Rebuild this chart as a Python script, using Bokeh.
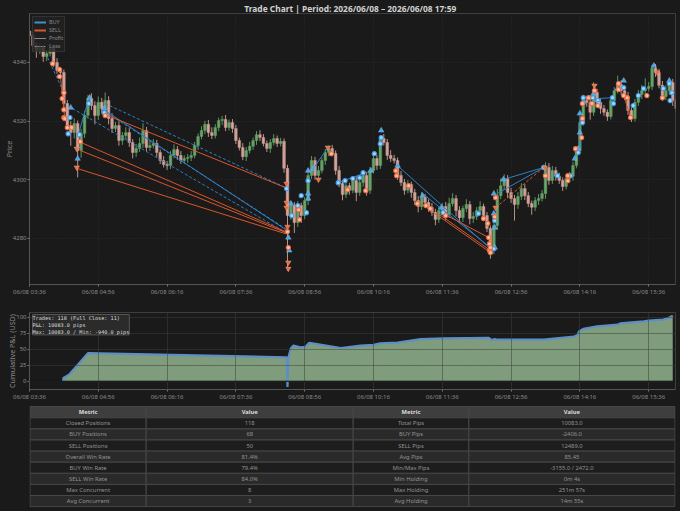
from bokeh.plotting import figure
from bokeh.layouts import column
from bokeh.models import Range1d, FixedTicker, Label, Span, Legend, LegendItem
from bokeh.core.properties import value
from bokeh.embed import file_html
from bokeh.resources import INLINE

BG = "#1a1a1a"
FONT = "Noto Sans"

title_text = "Trade Chart  |  Period: 2026/06/08 \u2013 2026/06/08 17:59"
tick_minutes = [0, 80, 160, 240, 320, 400, 480, 560, 640, 720]
tick_labels = ["06/08 03:36", "06/08 04:56", "06/08 06:16", "06/08 07:36", "06/08 08:56",
               "06/08 10:16", "06/08 11:36", "06/08 12:56", "06/08 14:16", "06/08 15:36"]

# Closing prices of 4-minute candles from 03:36
closes = [
    4349.2, 4345.8, 4344.1, 4345.1, 4342.0, 4343.1, 4344.8, 4340.0, 4337.3, 4336.6,
    4326.0, 4318.5, 4316.1, 4319.2, 4310.0, 4315.8, 4322.0, 4327.7, 4325.3, 4321.9,
    4326.4, 4324.3, 4327.0, 4320.9, 4317.5, 4318.5, 4313.4, 4315.1, 4316.1, 4312.7,
    4309.3, 4310.7, 4312.4, 4316.8, 4311.0, 4311.7, 4312.4, 4309.3, 4306.6, 4305.2,
    4304.9, 4308.3, 4310.3, 4308.3, 4306.6, 4307.3, 4307.6, 4308.3, 4311.7, 4314.8,
    4316.8, 4318.9, 4316.1, 4315.1, 4317.8, 4320.2, 4320.6, 4317.8, 4319.5, 4317.5,
    4313.4, 4311.0, 4307.9, 4310.0, 4311.4, 4313.4, 4315.4, 4314.4, 4312.4, 4310.7,
    4312.7, 4314.1, 4312.4, 4313.1, 4303.9, 4287.8, 4291.2, 4285.4, 4291.2, 4287.8,
    4292.9, 4301.5, 4306.6, 4301.5, 4303.2, 4306.6, 4309.3, 4310.7, 4309.0, 4303.2,
    4298.7, 4295.0, 4298.0, 4296.4, 4299.8, 4295.7, 4299.1, 4301.5, 4296.4, 4303.2,
    4307.3, 4304.9, 4314.1, 4312.7, 4308.3, 4307.3, 4306.6, 4301.5, 4299.1, 4296.4,
    4298.4, 4295.7, 4292.9, 4290.9, 4294.0, 4292.3, 4290.6, 4288.9, 4286.5, 4289.5,
    4290.9, 4288.2, 4291.9, 4293.6, 4289.5, 4287.1, 4290.2, 4291.6, 4286.8, 4287.5,
    4289.5, 4290.9, 4287.8, 4283.4, 4276.6, 4284.4, 4294.6, 4298.0, 4300.4, 4295.7,
    4293.6, 4291.6, 4294.3, 4297.0, 4294.6, 4291.9, 4290.6, 4292.9, 4293.6, 4295.3,
    4304.2, 4299.8, 4303.2, 4301.2, 4299.8, 4297.7, 4300.4, 4301.2, 4304.9, 4310.0,
    4319.5, 4327.0, 4326.4, 4323.0, 4329.8, 4326.4, 4324.3, 4323.0, 4321.6, 4327.0,
    4330.4, 4332.5, 4330.4, 4328.4, 4323.6, 4320.9, 4326.4, 4329.1, 4330.4, 4331.1,
    4331.8, 4338.0, 4336.6, 4332.2, 4328.4, 4330.4, 4333.2, 4327.0, 4324.3,
]
upper_wick = [
    0.8, 1.2, 1.0, 1.5, 1.0, 1.2, 1.6, 1.0, 1.5, 1.2,
    1.0, 1.2, 1.5, 1.8, 1.0, 1.5, 1.5, 1.2, 1.8, 1.5,
    2.0, 1.5, 2.8, 1.5, 1.8, 1.2, 1.5, 1.2, 1.8, 1.5,
    1.2, 1.5, 2.0, 2.5, 1.2, 1.8, 1.5, 1.2, 1.0, 1.5,
    1.2, 1.5, 1.8, 1.2, 1.5, 1.0, 1.2, 1.5, 1.2, 1.0,
    1.5, 1.2, 1.5, 1.8, 1.2, 1.0, 1.2, 1.5, 1.0, 1.2,
    1.2, 1.0, 1.5, 1.2, 1.5, 1.0, 1.2, 1.5, 1.2, 1.0,
    1.2, 1.5, 1.0, 1.2, 1.0, 1.2, 1.5, 1.2, 1.5, 1.0,
    1.2, 1.5, 1.5, 1.2, 1.5, 1.0, 1.2, 1.0, 1.2, 1.0,
    1.5, 1.2, 1.5, 1.0, 1.2, 1.5, 1.2, 1.5, 1.0, 1.2,
    1.5, 1.2, 1.2, 1.5, 1.2, 1.8, 1.2, 1.0, 1.5, 1.2,
    1.5, 1.0, 1.2, 1.5, 1.8, 1.2, 1.0, 1.5, 1.2, 1.5,
    1.2, 1.5, 2.0, 1.8, 1.2, 1.5, 1.0, 1.8, 1.2, 1.5,
    1.2, 1.8, 1.0, 1.2, 1.0, 1.5, 2.2, 2.5, 1.5, 1.2,
    1.5, 1.2, 1.5, 1.8, 1.5, 1.2, 1.0, 1.2, 1.5, 1.2,
    1.8, 1.5, 1.5, 1.2, 1.2, 1.0, 1.2, 1.5, 1.2, 1.0,
    1.2, 2.0, 1.5, 2.5, 3.5, 1.2, 1.5, 1.2, 1.0, 1.5,
    1.2, 3.0, 1.5, 1.2, 1.5, 1.0, 1.2, 1.5, 2.0, 3.5,
    1.5, 1.2, 1.5, 1.2, 1.5, 1.8, 1.5, 1.2, 1.0,
]
lower_wick = [
    1.2, 1.5, 2.5, 1.2, 1.8, 1.5, 1.0, 1.5, 1.2, 2.2,
    1.5, 1.2, 4.5, 2.0, 9.2, 2.5, 1.5, 1.2, 1.5, 3.0,
    1.5, 1.8, 1.2, 2.0, 1.5, 1.2, 1.8, 1.5, 1.2, 1.5,
    2.0, 1.5, 1.2, 1.5, 1.5, 1.2, 1.0, 1.5, 1.2, 1.0,
    1.5, 1.2, 1.0, 1.5, 1.2, 1.0, 1.5, 1.2, 1.0, 1.5,
    1.0, 1.2, 1.5, 1.2, 1.0, 1.2, 1.5, 1.2, 1.0, 1.5,
    1.2, 1.0, 1.2, 1.5, 1.0, 1.2, 1.5, 1.2, 1.0, 1.2,
    1.5, 1.0, 1.2, 1.0, 1.5, 18.8, 1.5, 3.5, 1.5, 2.5,
    1.2, 1.5, 1.2, 1.5, 1.2, 1.0, 1.5, 1.2, 1.0, 1.5,
    1.2, 2.0, 1.2, 1.5, 1.0, 3.0, 1.2, 1.5, 1.8, 1.2,
    1.0, 1.5, 1.2, 1.0, 1.5, 1.2, 1.0, 1.5, 1.2, 1.5,
    1.0, 1.8, 1.5, 2.0, 1.2, 1.5, 1.5, 1.2, 2.0, 1.2,
    1.5, 2.0, 1.2, 1.0, 2.0, 1.8, 1.5, 1.2, 2.0, 1.5,
    1.2, 1.0, 1.5, 1.2, 3.5, 2.0, 1.5, 1.2, 1.5, 2.0,
    1.5, 5.5, 1.5, 1.2, 1.5, 1.2, 2.5, 1.2, 1.5, 1.0,
    1.8, 1.5, 1.2, 1.5, 1.2, 1.5, 1.0, 1.2, 1.5, 1.0,
    1.2, 1.0, 1.5, 2.5, 1.2, 1.5, 1.8, 1.2, 1.5, 1.0,
    1.2, 1.0, 1.5, 1.2, 1.5, 1.2, 1.0, 1.2, 1.5, 1.2,
    1.0, 1.2, 1.5, 1.0, 1.5, 1.2, 1.5, 1.8, 1.2,
]

# Trades drawn as lines: minutes since 03:36 and prices at both ends
buy_profit_from_t = [57, 88, 330, 359, 428, 457, 551, 544, 662, 640]
buy_profit_from_p = [4315.7, 4323.6, 4303.8, 4299.0, 4304.8, 4295.3, 4300.1, 4295.3, 4327.7, 4322.6]
buy_profit_to_t = [69, 298, 347, 397, 536, 536, 598, 598, 678, 640]
buy_profit_to_p = [4327.7, 4283.0, 4311.0, 4303.1, 4276.5, 4276.9, 4304.2, 4304.2, 4328.0, 4310.0]
buy_loss_from_t = [88, 50, 91, 21]
buy_loss_from_p = [4326.0, 4324.3, 4322.6, 4341.7]
buy_loss_to_t = [298, 298, 298, 38]
buy_loss_to_p = [4297.3, 4282.0, 4283.3, 4331.0]
sell_profit_from_t = [91, 60, 59, 56, 455, 475, 481, 691, 36]
sell_profit_from_p = [4321.9, 4312.7, 4310.0, 4303.8, 4291.9, 4288.5, 4288.5, 4328.7, 4335.2]
sell_profit_to_t = [298, 298, 298, 298, 536, 536, 534, 699, 41]
sell_profit_to_p = [4297.3, 4282.3, 4282.0, 4281.6, 4275.2, 4275.9, 4280.3, 4321.2, 4320.9]
sell_loss_from_t = [542]
sell_loss_from_p = [4290.5]
sell_loss_to_t = [598]
sell_loss_to_p = [4304.2]

# Trade markers
buy_entry_t = [48, 70, 87, 56, 302, 324, 324, 324, 409, 428, 457, 479, 540, 540, 541, 541, 551,
               638, 640, 640, 656, 691, 726, 744, 684, 634, 301, 304, 330, 397]
buy_entry_p = [4324.6, 4328.0, 4324.3, 4307.2, 4275.9, 4303.1, 4295.3, 4293.6, 4316.8, 4304.8,
               4294.6, 4290.5, 4295.3, 4288.5, 4283.7, 4276.9, 4300.1, 4310.6, 4322.6, 4316.1,
               4329.4, 4333.8, 4338.9, 4333.8, 4331.1, 4307.2, 4280.3, 4291.9, 4303.8, 4303.1]
buy_exit_t = [47, 45, 58, 69, 87, 299, 324, 305, 312, 316, 322, 359, 367, 376, 384, 388, 401, 409,
              408, 481, 522, 541, 540, 598, 614, 629, 638, 643, 644, 644, 655, 661, 662, 678, 679,
              691, 702, 708, 714, 737, 744, 747, 745]
buy_exit_p = [4321.2, 4315.7, 4315.4, 4326.0, 4322.9, 4297.0, 4299.7, 4287.8, 4291.2, 4294.6,
              4288.8, 4299.0, 4299.7, 4300.4, 4300.7, 4302.4, 4308.9, 4314.4, 4312.3, 4288.8,
              4288.5, 4286.1, 4276.5, 4304.2, 4301.4, 4301.4, 4309.3, 4319.5, 4328.0, 4326.3,
              4328.0, 4327.0, 4326.0, 4328.0, 4326.0, 4331.4, 4325.3, 4328.7, 4331.1, 4331.1,
              4332.8, 4329.7, 4327.0]
sell_entry_t = [55, 55, 299, 299, 299, 300, 301, 301, 336, 347, 657, 730, 599, 542]
sell_entry_p = [4310.6, 4304.2, 4298.7, 4292.2, 4290.5, 4284.0, 4271.8, 4269.7, 4300.1, 4311.0,
                4332.1, 4336.6, 4304.2, 4290.5]
sell_exit_t = [27, 35, 35, 40, 38, 40, 40, 41, 44, 49, 59, 88, 300, 301, 313, 314, 351, 370, 391,
               426, 427, 441, 451, 461, 466, 484, 528, 533, 534, 535, 535, 536, 536, 542, 541,
               600, 626, 626, 635, 643, 642, 643, 650, 654, 661, 657, 685, 685, 691, 695, 699,
               718, 736]
sell_exit_p = [4339.6, 4337.6, 4335.2, 4329.7, 4327.7, 4323.9, 4321.2, 4320.9, 4317.8, 4317.8,
               4313.0, 4321.9, 4282.3, 4276.9, 4289.8, 4286.4, 4308.9, 4296.6, 4296.3, 4303.1,
               4301.4, 4298.0, 4291.9, 4291.2, 4290.2, 4287.8, 4286.8, 4285.1, 4280.3, 4278.2,
               4275.9, 4276.9, 4275.2, 4293.9, 4287.4, 4301.4, 4301.4, 4299.7, 4310.6, 4320.9,
               4314.4, 4326.0, 4328.0, 4326.0, 4325.3, 4330.4, 4332.8, 4330.8, 4328.7, 4328.0,
               4321.2, 4328.7, 4328.0]

# Cumulative P&L curve
pnl_t = [39, 39.5, 46, 68, 299, 300, 301, 304, 307, 315, 321, 325, 331, 362, 385, 400, 408, 428,
         455, 482, 534, 537, 541, 544, 598, 633, 637, 639, 644, 660, 684, 687, 714, 720, 737, 743, 748]
pnl_v = [0, 5, 10, 44, 37.5, -9, 37, 51.5, 55.7, 53, 54, 60, 59, 52, 55.7, 56.8, 59.4, 60.4,
         66, 67, 68, 64.6, 66, 65, 65, 70, 72, 78, 82, 86, 88.5, 90.6, 93.8, 94.8, 96.4, 99, 102.6]
stats_text = "Trades: 118 (Full Close: 11)\nP&L: 10083.0 pips\nMax: 10083.0 / Min: -940.0 pips"

# Summary table
table_header = ["Metric", "Value", "Metric", "Value"]
table_metric_a = ["Closed Positions", "BUY Positions", "SELL Positions", "Overall Win Rate",
                  "BUY Win Rate", "SELL Win Rate", "Max Concurrent", "Avg Concurrent"]
table_value_a = ["118", "68", "50", "81.4%", "79.4%", "84.0%", "8", "3"]
table_metric_b = ["Total Pips", "BUY Pips", "SELL Pips", "Avg Pips", "Min/Max Pips",
                  "Min Holding", "Max Holding", "Avg Holding"]
table_value_b = ["10083.0", "-2406.0", "12489.0", "85.45", "-3155.0 / 2472.0",
                 "0m 4s", "251m 57s", "14m 55s"]

X_MAX = 751.2


def style(p, y_ticks, y_label):
    p.background_fill_color = BG
    p.border_fill_color = BG
    p.outline_line_color = "#3e3e3e"
    p.xaxis.ticker = FixedTicker(ticks=tick_minutes)
    p.xaxis.major_label_overrides = dict(zip(tick_minutes, tick_labels))
    p.yaxis.ticker = FixedTicker(ticks=y_ticks)
    p.yaxis.axis_label = y_label
    p.yaxis.axis_label_text_font = FONT
    p.yaxis.axis_label_text_font_size = "7.2px"
    p.yaxis.axis_label_text_font_style = "normal"
    p.yaxis.axis_label_text_color = "#8a8a8a"
    p.yaxis.axis_label_standoff = -4
    for ax in (p.xaxis, p.yaxis):
        ax.axis_line_color = "#555555"
        ax.major_tick_line_color = "#777777"
        ax.major_tick_in = 0
        ax.major_tick_out = 2
        ax.minor_tick_line_color = None
        ax.major_label_text_color = "#8a8a8a"
        ax.major_label_text_font = FONT
        ax.major_label_text_font_size = "6px"
        ax.major_label_standoff = 1


# ---------- price chart ----------
main = figure(width=680, height=299, output_backend="svg", toolbar_location=None,
              x_range=Range1d(0, X_MAX), y_range=Range1d(4264.3, 4356.7),
              min_border_left=29, min_border_right=5, min_border_top=13, min_border_bottom=15,
              title=title_text)
main.title.align = "center"
main.title.standoff = 0
main.title.text_font = FONT
main.title.text_font_size = "8.4px"
main.title.text_font_style = "bold"
main.title.text_color = "#d2d2d2"
style(main, [4280, 4300, 4320, 4340], "Price")
main.grid.grid_line_color = "#2b2b2b"
main.grid.grid_line_dash = "1 2"

times = [i * 4 for i in range(len(closes))]
opens = [closes[0] + 1.5] + closes[:-1]
highs = [max(o, c) + w for o, c, w in zip(opens, closes, upper_wick)]
lows = [min(o, c) - w for o, c, w in zip(opens, closes, lower_wick)]
colors = ["#69a96b" if c >= o else "#d9a79e" for o, c in zip(opens, closes)]
main.segment(times, highs, times, lows, line_color=colors, line_width=1, line_alpha=0.85)
main.vbar(times, 3.2, opens, closes, fill_color=colors, line_color=colors, line_width=0.4, alpha=0.9)

BLUE, ORANGE = "#2f80c4", "#d9562c"
main.segment(buy_profit_from_t, buy_profit_from_p, buy_profit_to_t, buy_profit_to_p,
             line_color=BLUE, line_width=1)
main.segment(buy_loss_from_t, buy_loss_from_p, buy_loss_to_t, buy_loss_to_p,
             line_color=BLUE, line_width=1, line_dash="3 2")
main.segment(sell_profit_from_t, sell_profit_from_p, sell_profit_to_t, sell_profit_to_p,
             line_color=ORANGE, line_width=1)
main.segment(sell_loss_from_t, sell_loss_from_p, sell_loss_to_t, sell_loss_to_p,
             line_color=ORANGE, line_width=1, line_dash="3 2")

main.scatter(buy_entry_t, buy_entry_p, marker="triangle", size=5.5, fill_color="#4ba4ea", line_color="#8cc8f4", line_width=0.4)
main.scatter(buy_exit_t, buy_exit_p, marker="circle", size=4.2, fill_color="#a8d4f5", line_color="#3f9ce6", line_width=1.1)
main.scatter(sell_entry_t, sell_entry_p, marker="inverted_triangle", size=5.5, fill_color="#ee6d40", line_color="#f4a588", line_width=0.4)
main.scatter(sell_exit_t, sell_exit_p, marker="circle", size=4.2, fill_color="#f5bfa8", line_color="#ee6d40", line_width=1.1)

# Legend-only lines: their points lie left of the visible range
off_t, off_p = [-100, -90], [4300, 4300]
leg_buy = main.line(off_t, off_p, line_color="#3f8fd0", line_width=2)
leg_sell = main.line(off_t, off_p, line_color="#d9562c", line_width=2)
leg_profit = main.line(off_t, off_p, line_color="#888888", line_width=1)
leg_loss = main.line(off_t, off_p, line_color="#888888", line_width=1, line_dash="2 1")
legend = Legend(items=[LegendItem(label="BUY", renderers=[leg_buy]),
                       LegendItem(label="SELL", renderers=[leg_sell]),
                       LegendItem(label="Profit", renderers=[leg_profit]),
                       LegendItem(label="Loss", renderers=[leg_loss])],
                location="top_left", margin=3, padding=1, spacing=-2,
                label_text_font=FONT, label_text_font_size="5.5px", label_text_color="#8a8a8a",
                label_text_line_height=1.0,
                label_height=6, label_width=10, glyph_height=6, glyph_width=12, label_standoff=3,
                background_fill_color="#222222", background_fill_alpha=0.8,
                border_line_color="#444444")
main.add_layout(legend)

# ---------- P&L chart ----------
pnl = figure(width=680, height=104, output_backend="svg", toolbar_location=None,
             x_range=Range1d(0, X_MAX), y_range=Range1d(-13, 107.6),
             min_border_left=29, min_border_right=5, min_border_top=13, min_border_bottom=14)
style(pnl, [0, 25, 50, 75, 100], "Cumulative P&L (USD)")
pnl.varea(pnl_t, [0] * len(pnl_t), pnl_v, fill_color="#7f9c7d")
pnl.line(pnl_t, pnl_v, line_color="#5d8fc6", line_width=2.2)
pnl.add_layout(Span(location=0, dimension="width", line_color="#141414", line_width=1))
pnl.grid.grid_line_color = "#3a403a"
pnl.grid.grid_line_dash = "1 1"
pnl.grid.level = "annotation"
pnl.add_layout(Label(x=3, y=75, x_units="screen", y_units="screen", text=stats_text,
                     text_font="DejaVu Sans Mono", text_font_size="5.2px", text_color="#dddddd",
                     text_baseline="top", background_fill_color="#2b2b2b",
                     border_line_color="#555555"))

# ---------- table ----------
col_edges = [29.5, 145.7, 352.7, 468.3, 674.5]
table = figure(width=680, height=108, output_backend="svg", toolbar_location=None,
               x_range=Range1d(29, 675), y_range=Range1d(108, 0),
               min_border_left=29, min_border_right=5, min_border_top=0, min_border_bottom=0,
               outline_line_color=None)
table.background_fill_color = BG
table.border_fill_color = BG
table.axis.visible = False
table.grid.visible = False

TOP, HEAD_H, ROW_H = 3, 11.3, 11.1
col_centers = [(a + b) / 2 for a, b in zip(col_edges[:-1], col_edges[1:])]
columns_text = [table_metric_a, table_value_a, table_metric_b, table_value_b]
n_rows = len(table_metric_a)
qt, qb, ql, qr, qc, tx, ty, tt = [], [], [], [], [], [], [], []
for c in range(4):
    qt.append(TOP); qb.append(TOP + HEAD_H); ql.append(col_edges[c]); qr.append(col_edges[c + 1])
    qc.append("#3e3e3e")
    for r in range(n_rows):
        y0 = TOP + HEAD_H + r * ROW_H
        qt.append(y0); qb.append(y0 + ROW_H); ql.append(col_edges[c]); qr.append(col_edges[c + 1])
        qc.append("#1d1d1d" if r % 2 == 0 else "#2a2a2a")
        tx.append(col_centers[c]); ty.append(y0 + ROW_H / 2); tt.append(columns_text[c][r])
table.quad(left=ql, right=qr, top=qt, bottom=qb, fill_color=qc, line_color="#474747", line_width=1)
table.text(col_centers, [TOP + HEAD_H / 2] * 4, text=table_header, text_align="center",
           text_baseline="middle", text_font=value(FONT), text_font_size="5.8px",
           text_font_style="bold", text_color="#dcdcdc")
table.text(tx, ty, text=tt, text_align="center", text_baseline="middle",
           text_font=value(FONT), text_font_size="5.8px", text_color="#939393")

page = column(main, pnl, table, spacing=0)
css = "<style>html,body{margin:0;padding:0;background:#1a1a1a;overflow:hidden}</style></head>"
open("out.html", "w").write(file_html(page, INLINE).replace("</head>", css, 1))
